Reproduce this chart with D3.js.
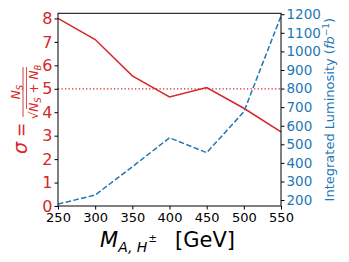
<!DOCTYPE html>
<html>
<head>
<meta charset="utf-8">
<script src="https://cdn.jsdelivr.net/npm/d3@7"></script>
<style>
  body { margin: 0; background: #fff; }
  text { font-family: "DejaVu Sans", sans-serif; }
</style>
</head>
<body>
<div id="chart"></div>
<script>
// data
const masses = [250, 300, 350, 400, 450, 500, 550];
const significance = [8.0, 7.1, 5.55, 4.65, 5.05, 4.17, 3.16];
const luminosity = [178, 227, 379, 535, 455, 675, 1190];
const threshold = 5;
const xTicks = [250, 300, 350, 400, 450, 500, 550];
const leftTicks = [0, 1, 2, 3, 4, 5, 6, 7, 8];
const rightTicks = [200, 300, 400, 500, 600, 700, 800, 900, 1000, 1100, 1200];

const red = "#d62728", blue = "#1f77b4";
const W = 349, H = 262;
const m = {left: 58, right: 281, top: 13.3, bottom: 206};

const svg = d3.select("#chart").append("svg")
  .attr("width", W).attr("height", H);

const x = d3.scaleLinear().domain([250, 550]).range([m.left, m.right]);
const yL = d3.scaleLinear().domain([0, 8.22]).range([m.bottom, m.top]);
const yR = d3.scaleLinear().domain([168, 1205]).range([m.bottom, m.top]);

// threshold line
svg.append("line")
  .attr("x1", x(250)).attr("x2", x(550))
  .attr("y1", yL(threshold)).attr("y2", yL(threshold))
  .attr("stroke", red).attr("stroke-width", 1.3)
  .attr("stroke-dasharray", "1.3,2.2");

const lineL = d3.line().x((d, i) => x(masses[i])).y(d => yL(d));
const lineR = d3.line().x((d, i) => x(masses[i])).y(d => yR(d));

svg.append("path").attr("d", lineL(significance))
  .attr("fill", "none").attr("stroke", red).attr("stroke-width", 1.5);
svg.append("path").attr("d", lineR(luminosity))
  .attr("fill", "none").attr("stroke", blue).attr("stroke-width", 1.5)
  .attr("stroke-dasharray", "5.5,2.4");

// frame
svg.append("rect")
  .attr("x", m.left).attr("y", m.top)
  .attr("width", m.right - m.left).attr("height", m.bottom - m.top)
  .attr("fill", "none").attr("stroke", "#000").attr("stroke-width", 1);

function styleAxis(g, color, size) {
  g.select(".domain").remove();
  g.selectAll(".tick line").attr("stroke", "#000");
  g.selectAll(".tick text").attr("fill", color)
    .style("font-family", "DejaVu Sans").style("font-size", size);
}

svg.append("g")
  .attr("transform", `translate(0,${m.bottom})`)
  .call(d3.axisBottom(x).tickValues(xTicks).tickSize(3.5).tickPadding(3))
  .call(g => styleAxis(g, "#000", "13px"));

svg.append("g")
  .attr("transform", `translate(${m.left},0)`)
  .call(d3.axisLeft(yL).tickValues(leftTicks).tickSize(3.5).tickPadding(2))
  .call(g => styleAxis(g, red, "16px"));

svg.append("g")
  .attr("transform", `translate(${m.right},0)`)
  .call(d3.axisRight(yR).tickValues(rightTicks).tickFormat(d3.format("d"))
    .tickSize(3.5).tickPadding(2))
  .call(g => styleAxis(g, blue, "13.5px"));

// x label: M_{A,H±} [GeV]
const xl = svg.append("text").attr("x", 100).attr("y", 247)
  .attr("fill", "#000").style("font-size", "21px");
xl.append("tspan").text("M").style("font-style", "italic");
xl.append("tspan").text("A, H").style("font-style", "italic")
  .style("font-size", "14px").attr("dy", 5);
xl.append("tspan").text("±").style("font-size", "10px").attr("dy", -10).attr("dx", 1);
xl.append("tspan").text("[GeV]").attr("dy", 5).attr("x", 175);

// left label: sigma = N_S / sqrt(N_S + N_B), rotated
const gl = svg.append("g").attr("transform", "rotate(-90)").attr("fill", red);
gl.append("text").attr("x", -154).attr("y", 27)
  .style("font-size", "19px").style("font-style", "italic").text("σ");
gl.append("text").attr("x", -137).attr("y", 27)
  .style("font-size", "17px").text("=");
gl.append("line").attr("x1", -117).attr("x2", -67)
  .attr("y1", 23).attr("y2", 23).attr("stroke", red).attr("stroke-width", 0.9);
const num = gl.append("text").attr("x", -92).attr("y", 20)
  .attr("text-anchor", "middle").style("font-size", "12px");
num.append("tspan").text("N").style("font-style", "italic");
num.append("tspan").text("S").style("font-style", "italic")
  .style("font-size", "8.5px").attr("dy", 2.5);
const den = gl.append("text").attr("x", -92).attr("y", 38)
  .attr("text-anchor", "middle").style("font-size", "12px");
den.append("tspan").text("√");
den.append("tspan").text("N").style("font-style", "italic");
den.append("tspan").text("S").style("font-style", "italic")
  .style("font-size", "8.5px").attr("dy", 2.5);
den.append("tspan").text(" + ").attr("dy", -2.5);
den.append("tspan").text("N").style("font-style", "italic");
den.append("tspan").text("B").style("font-style", "italic")
  .style("font-size", "8.5px").attr("dy", 2.5);
// sqrt overbar
gl.append("line").attr("x1", -109).attr("x2", -67)
  .attr("y1", 26.5).attr("y2", 26.5).attr("stroke", red).attr("stroke-width", 0.8);

// right label
const rl = svg.append("text")
  .attr("transform", `translate(334,${(m.top + m.bottom) / 2}) rotate(-90)`)
  .attr("text-anchor", "middle").attr("fill", blue).style("font-size", "13px");
rl.append("tspan").text("Integrated Luminosity (");
rl.append("tspan").text("fb").style("font-style", "italic");
rl.append("tspan").text("−1").style("font-size", "9px").attr("dy", -5);
rl.append("tspan").text(")").attr("dy", 5);
</script>
</body>
</html>
